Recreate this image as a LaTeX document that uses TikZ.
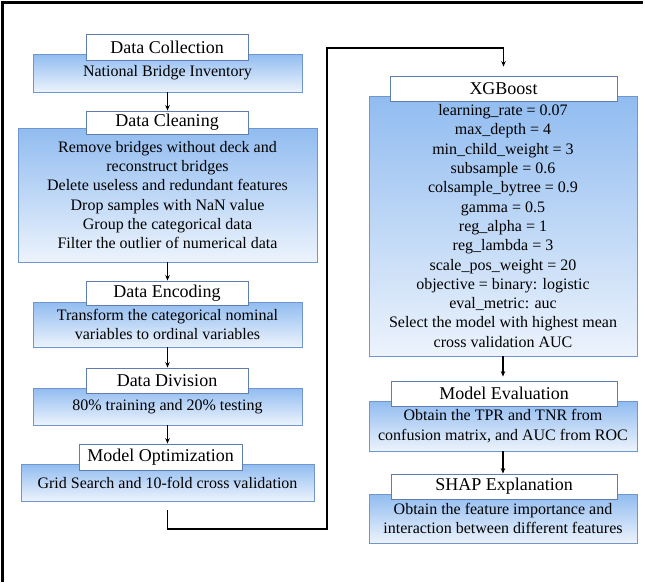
\documentclass[tikz,border=0pt]{standalone}
\usepackage{fontspec}
\setmainfont{Liberation Serif}
\usetikzlibrary{arrows.meta,shadows}
\definecolor{bluetop}{RGB}{145,188,240}
\definecolor{bluebot}{RGB}{236,243,252}
\definecolor{blueedge}{RGB}{112,150,205}
\definecolor{titleedge}{RGB}{95,125,175}
\tikzset{
 bluebox/.style={draw=blueedge, line width=0.9pt, top color=bluetop, bottom color=bluebot,
   inner sep=0pt, align=center, font=\fontsize{16}{19.3}\selectfont,
   drop shadow={opacity=0.2, shadow xshift=1.2pt, shadow yshift=-1.2pt}},
 titlebox/.style={draw=titleedge, line width=0.9pt, fill=white, inner sep=0pt,
   font=\fontsize{18}{21}\selectfont},
 arr/.style={-{Stealth[length=5.5pt,width=4.5pt]}, line width=1.1pt, black},
}
\begin{document}
\begin{tikzpicture}[x=1pt,y=-1pt]
\useasboundingbox (0,0) rectangle (645,582);
\draw[line width=2.8pt] (2.4,582) -- (2.4,2.4) -- (643,2.4);

% left column
\node[bluebox, minimum width=269pt, minimum height=38pt] (b1) at (167.5,73) {National Bridge Inventory};
\node[titlebox, minimum width=162pt, minimum height=26pt] (t1) at (167,47) {Data Collection};

\node[bluebox, minimum width=299pt, minimum height=134pt] (b2) at (167.5,195) {Remove bridges without deck and\\reconstruct bridges\\Delete useless and redundant features\\Drop samples with NaN value\\Group the categorical data\\Filter the outlier of numerical data};
\node[titlebox, minimum width=162pt, minimum height=23pt] (t2) at (167,122.5) {Data Cleaning};

\node[bluebox, minimum width=269pt, minimum height=45pt] (b3) at (167.5,324.5) {Transform the categorical nominal\\variables to ordinal variables};
\node[titlebox, minimum width=162pt, minimum height=24pt] (t3) at (167,293) {Data Encoding};

\node[bluebox, minimum width=269pt, minimum height=37pt] (b4) at (167.5,406.5) {80\% training and 20\% testing};
\node[titlebox, minimum width=162pt, minimum height=25pt] (t4) at (167,380.5) {Data Division};

\node[bluebox, minimum width=293pt, minimum height=37pt] (b5) at (167.5,482.5) {Grid Search and 10-fold cross validation};
\node[titlebox, minimum width=163pt, minimum height=26pt] (t5) at (160.5,457) {Model Optimization};

% right column
\node[bluebox, minimum width=268pt, minimum height=260pt] (b6) at (503,226) {learning\_rate = 0.07\\max\_depth = 4\\min\_child\_weight = 3\\subsample = 0.6\\colsample\_bytree = 0.9\\gamma = 0.5\\reg\_alpha = 1\\reg\_lambda = 3\\scale\_pos\_weight = 20\\objective = binary: logistic\\eval\_metric: auc\\Select the model with highest mean\\cross validation AUC};
\node[titlebox, minimum width=227pt, minimum height=25pt] (t6) at (503.5,88.5) {XGBoost};

\node[bluebox, minimum width=268pt, minimum height=50pt] (b7) at (503,426) {Obtain the TPR and TNR from\\confusion matrix, and AUC from ROC};
\node[titlebox, minimum width=226pt, minimum height=25pt] (t7) at (504,393.5) {Model Evaluation};

\node[bluebox, minimum width=268pt, minimum height=49pt] (b8) at (503,518.5) {Obtain the feature importance and\\interaction between different features};
\node[titlebox, minimum width=226pt, minimum height=25pt] (t8) at (504,486.5) {SHAP Explanation};

% connectors
\draw[arr] (b1.south) -- (b1.south |- t2.north);
\draw[arr] (b2.south) -- (b2.south |- t3.north);
\draw[arr] (b3.south) -- (b3.south |- t4.north);
\draw[arr] (b4.south) -- (b4.south |- t5.north);
\coordinate (c1) at (327,529);
\coordinate (c2) at (327,48);
\draw[arr] ([yshift=-9pt]b5.south) |- (c1) -- (c2) -| ([yshift=9pt]t6.north);
\draw[arr] (b6.south) -- ([yshift=4pt]b6.south |- t7.north);
\draw[arr] (b7.south) -- (b7.south |- t8.north);
\end{tikzpicture}
\end{document}
